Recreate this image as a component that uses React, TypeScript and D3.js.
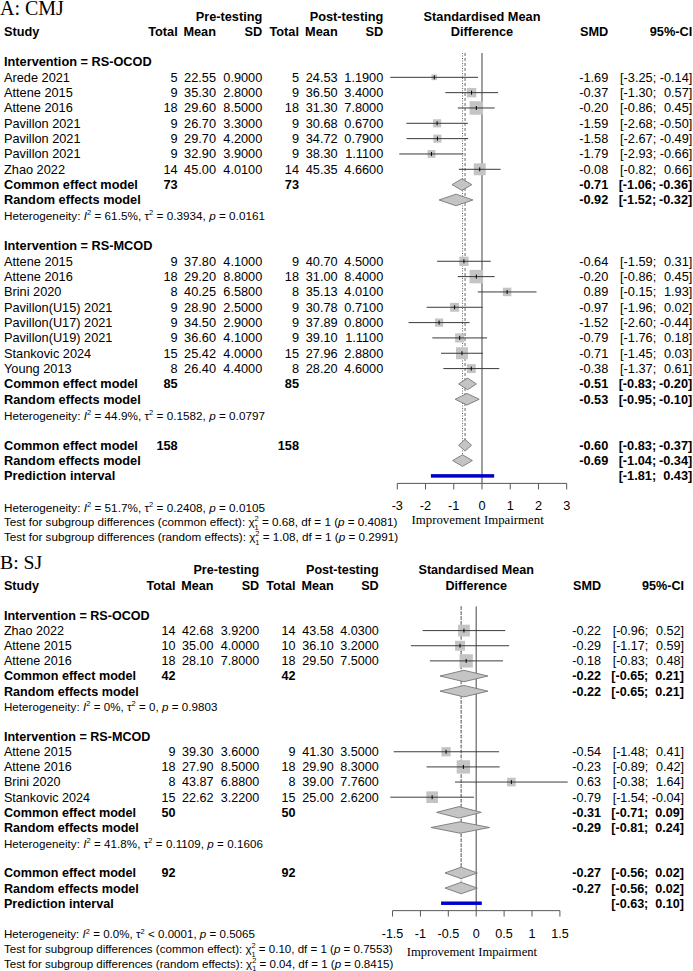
import React from "react";
import * as d3 from "d3";

const FONT = "'Liberation Sans', Arial, Helvetica, sans-serif";
const SERIF = "'Liberation Serif', 'Times New Roman', serif";

// ---------------- Panel A: CMJ ----------------
const cmjOcodStudies = ["Arede 2021", "Attene 2015", "Attene 2016", "Pavillon 2021", "Pavillon 2021", "Pavillon 2021", "Zhao 2022"];
const cmjOcodPre = [[5, 22.55, 0.9], [9, 35.3, 2.8], [18, 29.6, 8.5], [9, 26.7, 3.3], [9, 29.7, 4.2], [9, 32.9, 3.9], [14, 45.0, 4.01]];
const cmjOcodPost = [[5, 24.53, 1.19], [9, 36.5, 3.4], [18, 31.3, 7.8], [9, 30.68, 0.67], [9, 34.72, 0.79], [9, 38.3, 1.11], [14, 45.35, 4.66]];
const cmjOcodSmd = [-1.69, -0.37, -0.2, -1.59, -1.58, -1.79, -0.08];
const cmjOcodLower = [-3.25, -1.3, -0.86, -2.68, -2.67, -2.93, -0.82];
const cmjOcodUpper = [-0.14, 0.57, 0.45, -0.5, -0.49, -0.66, 0.66];
const cmjOcodTotals = [73, 73];
const cmjOcodCommon = [-0.71, -1.06, -0.36];
const cmjOcodRandom = [-0.92, -1.52, -0.32];
const cmjOcodHet = ["61.5%", "= 0.3934", "0.0161"];

const cmjMcodStudies = ["Attene 2015", "Attene 2016", "Brini 2020", "Pavillon(U15) 2021", "Pavillon(U17) 2021", "Pavillon(U19) 2021", "Stankovic 2024", "Young 2013"];
const cmjMcodPre = [[9, 37.8, 4.1], [18, 29.2, 8.8], [8, 40.25, 6.58], [9, 28.9, 2.5], [9, 34.5, 2.9], [9, 36.6, 4.1], [15, 25.42, 4.0], [8, 26.4, 4.4]];
const cmjMcodPost = [[9, 40.7, 4.5], [18, 31.0, 8.4], [8, 35.13, 4.01], [9, 30.78, 0.71], [9, 37.89, 0.8], [9, 39.1, 1.11], [15, 27.96, 2.88], [8, 28.2, 4.6]];
const cmjMcodSmd = [-0.64, -0.2, 0.89, -0.97, -1.52, -0.79, -0.71, -0.38];
const cmjMcodLower = [-1.59, -0.86, -0.15, -1.96, -2.6, -1.76, -1.45, -1.37];
const cmjMcodUpper = [0.31, 0.45, 1.93, 0.02, -0.44, 0.18, 0.03, 0.61];
const cmjMcodTotals = [85, 85];
const cmjMcodCommon = [-0.51, -0.83, -0.2];
const cmjMcodRandom = [-0.53, -0.95, -0.1];
const cmjMcodHet = ["44.9%", "= 0.1582", "0.0797"];

const cmjTotals = [158, 158];
const cmjCommon = [-0.6, -0.83, -0.37];
const cmjRandom = [-0.69, -1.04, -0.34];
const cmjPrediction = [-1.81, 0.43];
const cmjHet = ["51.7%", "= 0.2408", "0.0105"];
const cmjTests = [["common effect", "0.68", "0.4081"], ["random effects", "1.08", "0.2991"]];
const cmjTicks = [-3, -2, -1, 0, 1, 2, 3];

// ---------------- Panel B: SJ ----------------
const sjOcodStudies = ["Zhao 2022", "Attene 2015", "Attene 2016"];
const sjOcodPre = [[14, 42.68, 3.92], [10, 35.0, 4.0], [18, 28.1, 7.8]];
const sjOcodPost = [[14, 43.58, 4.03], [10, 36.1, 3.2], [18, 29.5, 7.5]];
const sjOcodSmd = [-0.22, -0.29, -0.18];
const sjOcodLower = [-0.96, -1.17, -0.83];
const sjOcodUpper = [0.52, 0.59, 0.48];
const sjOcodTotals = [42, 42];
const sjOcodCommon = [-0.22, -0.65, 0.21];
const sjOcodRandom = [-0.22, -0.65, 0.21];
const sjOcodHet = ["0%", "= 0", "0.9803"];

const sjMcodStudies = ["Attene 2015", "Attene 2016", "Brini 2020", "Stankovic 2024"];
const sjMcodPre = [[9, 39.3, 3.6], [18, 27.9, 8.5], [8, 43.87, 6.88], [15, 22.62, 3.22]];
const sjMcodPost = [[9, 41.3, 3.5], [18, 29.9, 8.3], [8, 39.0, 7.76], [15, 25.0, 2.62]];
const sjMcodSmd = [-0.54, -0.23, 0.63, -0.79];
const sjMcodLower = [-1.48, -0.89, -0.38, -1.54];
const sjMcodUpper = [0.41, 0.42, 1.64, -0.04];
const sjMcodTotals = [50, 50];
const sjMcodCommon = [-0.31, -0.71, 0.09];
const sjMcodRandom = [-0.29, -0.81, 0.24];
const sjMcodHet = ["41.8%", "= 0.1109", "0.1606"];

const sjTotals = [92, 92];
const sjCommon = [-0.27, -0.56, 0.02];
const sjRandom = [-0.27, -0.56, 0.02];
const sjPrediction = [-0.63, 0.1];
const sjHet = ["0.0%", "< 0.0001", "0.5065"];
const sjTests = [["common effect", "0.10", "0.7553"], ["random effects", "0.04", "0.8415"]];
const sjTicks = [-1.5, -1, -0.5, 0, 0.5, 1, 1.5];

// ---------------- layout (panel-local coordinates) ----------------
const ROW0 = 16;
const ROWH = 15.33;
const FS = 12.75;
const FS_SMALL = 11.7;
const COL = { study: 4, preN: 177.7, preM: 216, preSD: 262.3, postN: 299, postM: 337.7, postSD: 383.3, smd: 608.3, ciL: 656.2, ciR: 692.3 };
const PLOT_X: [number, number] = [397.3, 566.7];
const rowY = (i: number) => ROW0 + i * ROWH;
const BASE = 4.5;

const fmtCI = (v: number) => v.toFixed(2);

function HetText({ x, y, het, len }: { x: number; y: number; het: string[]; len: number }) {
  return (
    <text x={x} y={y} fontSize={FS_SMALL} fontFamily={FONT} textLength={len} lengthAdjust="spacing">
      {"Heterogeneity: "}
      <tspan fontStyle="italic">I</tspan>
      <tspan dy={-5} fontSize={7.5}>2</tspan>
      <tspan dy={5}>{` = ${het[0]}, \u03C4`}</tspan>
      <tspan dy={-5} fontSize={7.5}>2</tspan>
      <tspan dy={5}>{` ${het[1]}, `}</tspan>
      <tspan fontStyle="italic">p</tspan>
      {` = ${het[2]}`}
    </text>
  );
}

function TestText({ x, y, test }: { x: number; y: number; test: string[] }) {
  return (
    <text x={x} y={y} fontSize={FS_SMALL} fontFamily={FONT}>
      {`Test for subgroup differences (${test[0]}): \u03C7`}
      <tspan dy={-5} fontSize={7.5}>2</tspan>
      <tspan dx={-4.2} dy={8.5} fontSize={7.5}>1</tspan>
      <tspan dy={-3.5}>{` = ${test[1]}, df = 1 (`}</tspan>
      <tspan fontStyle="italic">p</tspan>
      {` = ${test[2]})`}
    </text>
  );
}

type Group = {
  title: string;
  studies: string[];
  pre: number[][];
  post: number[][];
  smd: number[];
  lower: number[];
  upper: number[];
  totals: number[];
  common: number[];
  random: number[];
  het: string[];
};

type PanelCfg = {
  title: string;
  groups: Group[];
  totals: number[];
  common: number[];
  random: number[];
  prediction: number[];
  het: string[];
  tests: string[][];
  ticks: number[];
  domain: [number, number];
  tickLabelOff: number;
  labelOff: number;
  hetLen: number[];
};

function Panel({ cfg, tx, ty, s }: { cfg: PanelCfg; tx: number; ty: number; s: number }) {
  const x = d3.scaleLinear().domain(cfg.domain).range(PLOT_X);
  const allW: number[] = [];
  cfg.groups.forEach((g) => g.lower.forEach((lo, i) => {
    const se = (g.upper[i] - lo) / 3.92;
    allW.push(1 / (se * se));
  }));
  const wMax = d3.max(allW) as number;
  const size = d3.scaleSqrt().domain([0, wMax]).range([0, 13.5]);

  const els: React.ReactNode[] = [];
  const marks: React.ReactNode[] = [];
  let k = 0;
  const T = (xx: number, yy: number, str: string | number, anchor = "end", bold = false) =>
    els.push(
      <text key={k++} x={xx} y={yy + BASE} textAnchor={anchor} fontWeight={bold ? "bold" : "normal"} fontSize={FS} fontFamily={FONT}>
        {str}
      </text>
    );
  const CI = (yy: number, lo: number, hi: number, bold: boolean) => {
    T(COL.ciL, yy, `[${fmtCI(lo)};`, "end", bold);
    T(COL.ciR, yy, `${fmtCI(hi)}]`, "end", bold);
  };
  const diamond = (yy: number, v: number[]) => {
    const h = 5.8;
    marks.push(
      <polygon key={k++} points={`${x(v[1])},${yy} ${x(v[0])},${yy - h} ${x(v[2])},${yy} ${x(v[0])},${yy + h}`} fill="#c4c4c4" stroke="#777" strokeWidth={0.9} />
    );
  };

  // headers
  T(COL.preSD, rowY(0), "Pre-testing", "end", true);
  T(COL.postSD, rowY(0), "Post-testing", "end", true);
  T((PLOT_X[0] + PLOT_X[1]) / 2, rowY(0), "Standardised Mean", "middle", true);
  T(COL.study, rowY(1), "Study", "start", true);
  T(COL.preN, rowY(1), "Total", "end", true);
  T(COL.preM, rowY(1), "Mean", "end", true);
  T(COL.preSD, rowY(1), "SD", "end", true);
  T(COL.postN, rowY(1), "Total", "end", true);
  T(COL.postM, rowY(1), "Mean", "end", true);
  T(COL.postSD, rowY(1), "SD", "end", true);
  T((PLOT_X[0] + PLOT_X[1]) / 2, rowY(1), "Difference", "middle", true);
  T(COL.smd, rowY(1), "SMD", "end", true);
  T(COL.ciR, rowY(1), "95%-CI", "end", true);

  let r = 3;
  let h = 0;
  cfg.groups.forEach((g) => {
    T(COL.study, rowY(r), g.title, "start", true);
    r++;
    g.studies.forEach((st, i) => {
      const yy = rowY(r);
      T(COL.study, yy, st, "start");
      T(COL.preN, yy, g.pre[i][0]);
      T(COL.preM, yy, g.pre[i][1].toFixed(2));
      T(COL.preSD, yy, g.pre[i][2].toFixed(4));
      T(COL.postN, yy, g.post[i][0]);
      T(COL.postM, yy, g.post[i][1].toFixed(2));
      T(COL.postSD, yy, g.post[i][2].toFixed(4));
      T(COL.smd, yy, g.smd[i].toFixed(2));
      CI(yy, g.lower[i], g.upper[i], false);
      const se = (g.upper[i] - g.lower[i]) / 3.92;
      const sz = size(1 / (se * se));
      marks.push(<rect key={k++} x={x(g.smd[i]) - sz / 2} y={yy - sz / 2} width={sz} height={sz} fill="#c4c4c4" />);
      marks.push(<line key={k++} x1={x(g.lower[i])} x2={x(g.upper[i])} y1={yy} y2={yy} stroke="#3a3a3a" strokeWidth={1} />);
      marks.push(<line key={k++} x1={x(g.smd[i])} x2={x(g.smd[i])} y1={yy - 2} y2={yy + 2} stroke="#000" strokeWidth={1} />);
      r++;
    });
    T(COL.study, rowY(r), "Common effect model", "start", true);
    T(COL.preN, rowY(r), g.totals[0], "end", true);
    T(COL.postN, rowY(r), g.totals[1], "end", true);
    T(COL.smd, rowY(r), g.common[0].toFixed(2), "end", true);
    CI(rowY(r), g.common[1], g.common[2], true);
    diamond(rowY(r), g.common);
    T(COL.study, rowY(r + 1), "Random effects model", "start", true);
    T(COL.smd, rowY(r + 1), g.random[0].toFixed(2), "end", true);
    CI(rowY(r + 1), g.random[1], g.random[2], true);
    diamond(rowY(r + 1), g.random);
    els.push(<HetText key={k++} x={COL.study} y={rowY(r + 2) + 5} het={g.het} len={cfg.hetLen[h++]} />);
    r += 4;
  });

  const rc = r;
  T(COL.study, rowY(rc), "Common effect model", "start", true);
  T(COL.preN, rowY(rc), cfg.totals[0], "end", true);
  T(COL.postN, rowY(rc), cfg.totals[1], "end", true);
  T(COL.smd, rowY(rc), cfg.common[0].toFixed(2), "end", true);
  CI(rowY(rc), cfg.common[1], cfg.common[2], true);
  diamond(rowY(rc), cfg.common);
  T(COL.study, rowY(rc + 1), "Random effects model", "start", true);
  T(COL.smd, rowY(rc + 1), cfg.random[0].toFixed(2), "end", true);
  CI(rowY(rc + 1), cfg.random[1], cfg.random[2], true);
  diamond(rowY(rc + 1), cfg.random);
  T(COL.study, rowY(rc + 2), "Prediction interval", "start", true);
  CI(rowY(rc + 2), cfg.prediction[0], cfg.prediction[1], true);
  const py = rowY(rc + 2);
  marks.push(<rect key={k++} x={x(cfg.prediction[0])} y={py - 1.75} width={x(cfg.prediction[1]) - x(cfg.prediction[0])} height={3.5} fill="#0000cd" />);

  els.push(<HetText key={k++} x={COL.study} y={rowY(rc + 4) + 5} het={cfg.het} len={cfg.hetLen[h++]} />);
  els.push(<TestText key={k++} x={COL.study} y={rowY(rc + 5) + 4.5} test={cfg.tests[0]} />);
  els.push(<TestText key={k++} x={COL.study} y={rowY(rc + 6) + 4.2} test={cfg.tests[1]} />);

  const axisY = py + 7.5;
  const topY = rowY(3) - 9;
  const x0 = x(0);

  return (
    <g transform={`translate(${tx},${ty}) scale(${s})`}>
      <text x={0} y={14.5} fontFamily={SERIF} fontSize={20}>{cfg.title}</text>
      {/* reference lines */}
      <line x1={x0} x2={x0} y1={topY} y2={axisY} stroke="#6e6e6e" strokeWidth={1.3} />
      <line x1={x(cfg.common[0])} x2={x(cfg.common[0])} y1={topY} y2={rowY(rc)} stroke="#555" strokeWidth={0.9} strokeDasharray="3,2" />
      <line x1={x(cfg.random[0])} x2={x(cfg.random[0])} y1={topY} y2={rowY(rc + 1)} stroke="#555" strokeWidth={0.9} strokeDasharray="1,1.5" />
      {marks}
      {/* axis */}
      <line x1={PLOT_X[0]} x2={PLOT_X[1]} y1={axisY} y2={axisY} stroke="#555" strokeWidth={1} />
      {cfg.ticks.map((t) => (
        <g key={`t${t}`}>
          <line x1={x(t)} x2={x(t)} y1={axisY} y2={axisY + 6} stroke="#555" strokeWidth={1} />
          <text x={x(t)} y={axisY + cfg.tickLabelOff + 4.5} textAnchor="middle" fontSize={FS} fontFamily={FONT}>{String(t)}</text>
        </g>
      ))}
      <text x={x0 - 1.5} y={axisY + cfg.labelOff + 4} textAnchor="end" fontSize={12.8} fontFamily={SERIF}>Improvement</text>
      <text x={x0 + 2} y={axisY + cfg.labelOff + 4} textAnchor="start" fontSize={12.8} fontFamily={SERIF}>Impairment</text>
      {els}
    </g>
  );
}

const cmjCfg: PanelCfg = {
  title: "A: CMJ",
  groups: [
    { title: "Intervention = RS-OCOD", studies: cmjOcodStudies, pre: cmjOcodPre, post: cmjOcodPost, smd: cmjOcodSmd, lower: cmjOcodLower, upper: cmjOcodUpper, totals: cmjOcodTotals, common: cmjOcodCommon, random: cmjOcodRandom, het: cmjOcodHet },
    { title: "Intervention = RS-MCOD", studies: cmjMcodStudies, pre: cmjMcodPre, post: cmjMcodPost, smd: cmjMcodSmd, lower: cmjMcodLower, upper: cmjMcodUpper, totals: cmjMcodTotals, common: cmjMcodCommon, random: cmjMcodRandom, het: cmjMcodHet },
  ],
  totals: cmjTotals,
  common: cmjCommon,
  random: cmjRandom,
  prediction: cmjPrediction,
  het: cmjHet,
  tests: cmjTests,
  ticks: cmjTicks,
  domain: [-3, 3],
  tickLabelOff: 22,
  labelOff: 36.5,
  hetLen: [261, 261, 261],
};

const sjCfg: PanelCfg = {
  title: "B: SJ",
  groups: [
    { title: "Intervention = RS-OCOD", studies: sjOcodStudies, pre: sjOcodPre, post: sjOcodPost, smd: sjOcodSmd, lower: sjOcodLower, upper: sjOcodUpper, totals: sjOcodTotals, common: sjOcodCommon, random: sjOcodRandom, het: sjOcodHet },
    { title: "Intervention = RS-MCOD", studies: sjMcodStudies, pre: sjMcodPre, post: sjMcodPost, smd: sjMcodSmd, lower: sjMcodLower, upper: sjMcodUpper, totals: sjMcodTotals, common: sjMcodCommon, random: sjMcodRandom, het: sjMcodHet },
  ],
  totals: sjTotals,
  common: sjCommon,
  random: sjRandom,
  prediction: sjPrediction,
  het: sjHet,
  tests: sjTests,
  ticks: sjTicks,
  domain: [-1.5, 1.5],
  tickLabelOff: 23.5,
  labelOff: 42,
  hetLen: [216, 262, 254],
};

export default function App() {
  return (
    <svg width={693} height={971} viewBox="0 0 693 971" style={{ position: "absolute", left: 0, top: 0, display: "block", background: "#fff" }}>
      <rect x={0} y={0} width={693} height={971} fill="#fff" />
      <Panel cfg={cmjCfg} tx={0} ty={0} s={1} />
      <Panel cfg={sjCfg} tx={0} ty={554.2} s={0.988} />
    </svg>
  );
}
